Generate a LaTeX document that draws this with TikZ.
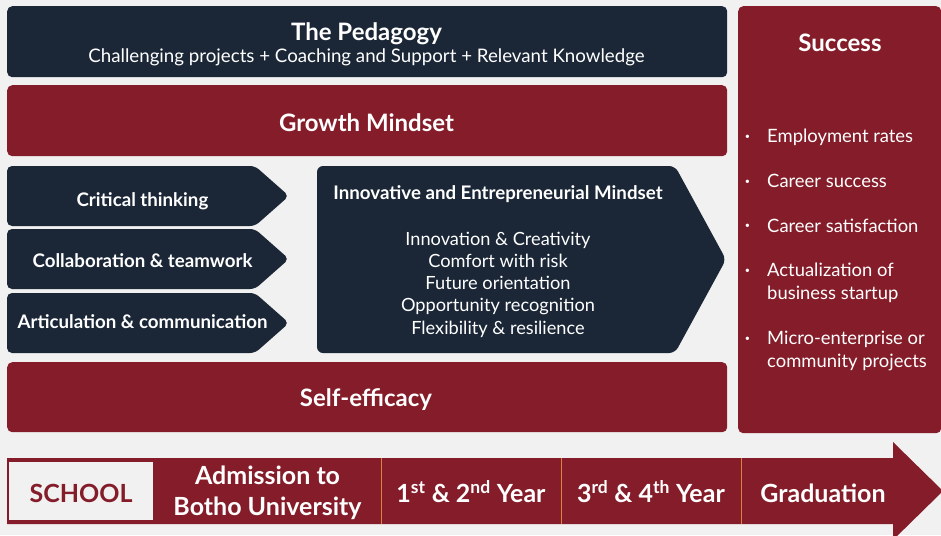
\documentclass[tikz,border=0pt]{standalone}
\usepackage{fontspec}
\setmainfont{Lato}
\usetikzlibrary{positioning}
\definecolor{BUnavy}{HTML}{1B2737}
\definecolor{BUred}{HTML}{841D29}
\definecolor{BUpaper}{HTML}{F1F1F1}
\definecolor{BUline}{HTML}{E0803F}
\tikzset{
  bu/band/.style={rounded corners=5pt, inner sep=0pt, anchor=north west},
  bu/navy/.style={bu/band, fill=BUnavy},
  bu/red/.style={bu/band, fill=BUred},
  bu/head/.style={text=white, anchor=base, inner sep=0pt, font=\fontsize{24}{28}\selectfont\bfseries},
  bu/sub/.style={text=white, anchor=base, inner sep=0pt, font=\fontsize{18.7}{22}\selectfont},
  bu/skill/.style={text=white, anchor=base, inner sep=0pt, font=\fontsize{18.7}{22}\selectfont\bfseries},
  bu/item/.style={text=white, anchor=base, inner sep=0pt, align=center, font=\fontsize{18.2}{22.2}\selectfont},
  bu/bullet/.style={text=white, anchor=base west, inner sep=0pt, align=left, font=\fontsize{18.4}{22.7}\selectfont},
  bu/dot/.style={text=white, inner sep=0pt, font=\small},
  bu/stage/.style={text=white, anchor=base, inner sep=0pt, align=center, font=\fontsize{25}{30.7}\selectfont\bfseries}
}

\begin{document}
\begin{tikzpicture}[x=1pt,y=-1pt]
\fill[BUpaper] (0,0) rectangle (941,535);
\useasboundingbox (0,0) rectangle (941,535);
\clip (0,0) rectangle (941,535);

% pedagogy and growth mindset
\node[bu/navy, minimum width=720pt, minimum height=71pt] (pedagogy) at (7,6) {};
\node[bu/head] (pedtitle) at (366.5,40.5) {The Pedagogy};
\node[bu/sub] (pedsub) at (366.5,62.5) {Challenging projects + Coaching and Support + Relevant Knowledge};
\node[bu/red, minimum width=720pt, minimum height=71pt] (growth) at (7,85) {};
\node[bu/head] (growthtxt) at (366.5,131.5) {Growth Mindset};

% skills
\foreach \y/\b/\name/\txt in {166/206/crit/Critical thinking, 229/267/collab/Collaboration \& teamwork, 293/328/artic/Articulation \& communication} {
  \fill[BUnavy, rounded corners=5pt] (7,\y) -- (255,\y) -- (289,\y+30) -- (255,\y+60) -- (7,\y+60) -- cycle;
  \node[bu/skill] (\name) at (142.5,\b) {\txt};
}
\fill[BUnavy, rounded corners=6pt] (317,166) -- (675,166) -- (726,259.5) -- (675,353) -- (317,353) -- cycle;
\node[bu/skill] (innov) at (498,199) {Innovative and Entrepreneurial Mindset};
\node[bu/item] (traits) at (498,334) {Innovation \& Creativity\\Comfort with risk\\Future orientation\\Opportunity recognition\\Flexibility \& resilience};

\node[bu/red, minimum width=720pt, minimum height=70pt] (selfeff) at (7,362) {};
\node[bu/head] (selfefftxt) at (366,406.7) {Self-efficacy};

% success
\node[bu/red, minimum width=203pt, minimum height=427pt] (success) at (738,6) {};
\node[bu/head] (succtitle) at (840,51.5) {Success};
% \d = first baseline (bullet), \y = last baseline
\foreach \d/\y/\name/\txt in {142.5/142.5/emp/Employment rates, 187.5/187.5/car/Career success, 232.3/232.3/sat/Career satisfaction, 276.7/299.3/act/{Actualization of\\business startup}, 345/367.5/micro/{Micro-enterprise or\\community projects}} {
  \node[bu/bullet] (\name) at (767,\y) {\txt};
  \node[bu/dot] (\name dot) at (747.5,\d-5.5) {\textbullet};
}

% timeline
\fill[BUred] (7,458) -- (893,458) -- (893,442) -- (943,491) -- (893,540) -- (893,524) -- (7,524) -- cycle;
\node[fill=BUpaper, anchor=north west, inner sep=0pt, minimum width=144pt, minimum height=58.5pt] (school) at (9,461.5) {};
\node[bu/stage, text=BUred] (schooltxt) at (81,502) {SCHOOL};
\foreach \x in {381,561,741}
  \draw[BUline, line width=1pt] (\x,458) -- (\x,524);
\node[bu/stage] (admit) at (267.5,515) {Admission to\\Botho University};
\node[bu/stage] (year12) at (471,502.5) {1\textsuperscript{st} \& 2\textsuperscript{nd} Year};
\node[bu/stage] (year34) at (651,502.5) {3\textsuperscript{rd} \& 4\textsuperscript{th} Year};
\node[bu/stage] (grad) at (823,502.5) {Graduation};
\end{tikzpicture}
\end{document}
